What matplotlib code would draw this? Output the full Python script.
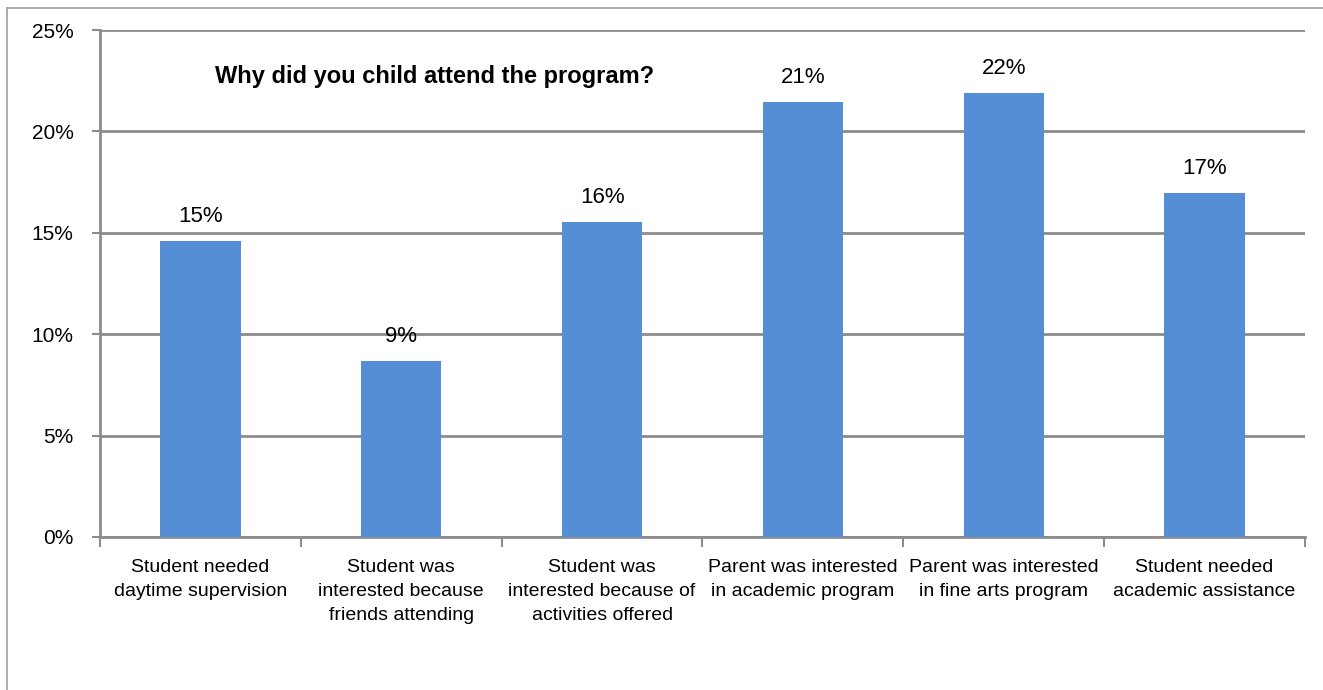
import matplotlib
matplotlib.use("Agg")
import matplotlib.pyplot as plt
from matplotlib.ticker import FixedLocator, PercentFormatter

# Survey results: reasons for attending the program (percent of respondents)
categories = [
    "Student needed\ndaytime supervision",
    "Student was\ninterested because\nfriends attending",
    "Student was\ninterested because of\nactivities offered",
    "Parent was interested\nin academic program",
    "Parent was interested\nin fine arts program",
    "Student needed\nacademic assistance",
]
shares = [14.6, 8.66, 15.52, 21.45, 21.9, 16.95]
y_ticks = [0, 5, 10, 15, 20, 25]
title_text = "Why did you child attend the program?"

plt.rcParams["font.family"] = ["Liberation Sans", "DejaVu Sans"]

W, H = 1323, 690
fig = plt.figure(figsize=(W / 100, H / 100), dpi=100)
fig.patch.set_facecolor("white")

# chart-area frame (top and left edges visible)
frame_col = "#a6a6a6"
fig.add_artist(plt.Line2D([7 / W, 1.0], [1 - 8 / H, 1 - 8 / H], color=frame_col, lw=1.3))
fig.add_artist(plt.Line2D([7 / W, 7 / W], [0.0, 1 - 8 / H], color=frame_col, lw=1.3))

ax = fig.add_axes([100 / W, 1 - 537 / H, (1305 - 100) / W, (537 - 30) / H])

grid_col = "#8c8c8c"
x = list(range(len(categories)))
bars = ax.bar(x, shares, width=0.4, color="#558ED5", zorder=3)

ax.set_xlim(-0.5, len(categories) - 0.5)
ax.set_ylim(0, 25)
ax.yaxis.set_major_locator(FixedLocator(y_ticks))
ax.yaxis.set_major_formatter(PercentFormatter(decimals=0))
ax.grid(axis="y", color=grid_col, lw=2, zorder=1)
ax.set_axisbelow(True)

for side in ("top", "right"):
    ax.spines[side].set_visible(False)
for side in ("left", "bottom"):
    ax.spines[side].set_color(grid_col)
    ax.spines[side].set_linewidth(2)

ax.tick_params(axis="y", length=6, width=1.5, color=grid_col, labelsize=15, pad=13)

# category labels at centres, tick marks at category boundaries
ax.set_xticks(x)
ax.set_xticklabels(categories, fontsize=14, linespacing=1.52)
ax.tick_params(axis="x", which="major", length=0, pad=16)
ax.set_xticks([i - 0.5 for i in range(len(categories) + 1)], minor=True)
ax.tick_params(axis="x", which="minor", length=7, width=1.5, color=grid_col)

for rect, v in zip(bars, shares):
    ax.annotate(f"{v:.0f}%", (rect.get_x() + rect.get_width() / 2, v),
                xytext=(0, 10), textcoords="offset points",
                ha="center", va="bottom", fontsize=16)

fig.text(435 / W, 1 - 76 / H, title_text, ha="center", va="center",
         fontsize=17, fontweight="bold")

fig.savefig("out.png", dpi=100)
